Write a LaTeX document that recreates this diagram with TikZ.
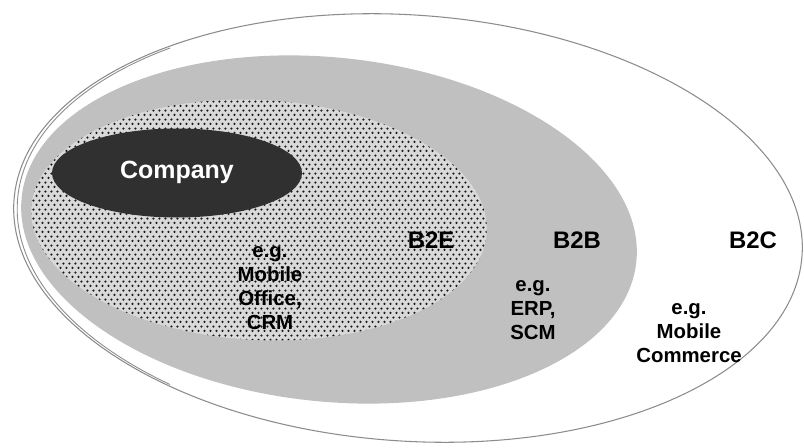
\documentclass[tikz,border=0pt]{standalone}
\usepackage{fontspec}
\setmainfont{Liberation Sans}
\usetikzlibrary{patterns.meta}

\definecolor{ringline}{HTML}{8C8C8C}
\definecolor{btobfill}{HTML}{C0C0C0}
\definecolor{btoefill}{HTML}{D9D9D9}
\definecolor{dotink}{HTML}{1A1A1A}
\definecolor{corefill}{HTML}{303030}

% staggered halftone dots for the B2E area
\tikzdeclarepattern{
  name=halftone,
  type=uncolored,
  bounding box={(0pt,0pt) and (3.4pt,5pt)},
  tile size={(3.4pt,5pt)},
  code={
    \fill (0.85pt,1.25pt) circle (0.7pt);
    \fill (2.55pt,3.75pt) circle (0.7pt);
  }
}

\tikzset{
  ring/.style={draw=ringline, line width=0.6pt},
  tag/.style={font=\bfseries\fontsize{13.6}{16}\selectfont, text=black, inner sep=0pt},
  note/.style={font=\bfseries\fontsize{11.6}{13.6}\selectfont, align=center, text=black, inner sep=0pt},
}

\begin{document}
\begin{tikzpicture}[x=0.02cm, y=0.02cm]
\useasboundingbox (0,0) rectangle (804,447);
\fill[white] (0,0) rectangle (804,447);

% B2C: outer ring, with a second stroke along its left side
\draw[ring, fill=white, rotate around={-4:(408,219)}]
  (408,219) ellipse [x radius=395, y radius=213];
\begin{scope}
  \clip (0,0) rectangle (170,447);
  \draw[ring, line width=0.5pt, rotate around={-4:(408,219)}]
    (409.5,219) ellipse [x radius=393, y radius=212];
\end{scope}

% B2B: grey ring
\fill[btobfill, rotate around={-6:(329,217.5)}]
  (329,217.5) ellipse [x radius=309, y radius=172];

% B2E: dotted ring
\fill[btoefill, rotate around={-3:(259,227)}]
  (259,227) ellipse [x radius=228, y radius=120];
\fill[pattern=halftone, pattern color=dotink, rotate around={-3:(259,227)}]
  (259,227) ellipse [x radius=228, y radius=120];

% company core
\fill[corefill] (177,274) ellipse [x radius=125, y radius=44.5];

\node[font=\bfseries\fontsize{14.2}{16}\selectfont, text=white] (company) at (177,275) {Company};

\node[tag] (btoe) at (431,207) {B2E};
\node[tag] (btob) at (577,207) {B2B};
\node[tag] (btoc) at (753,207) {B2C};

\node[note] (btoeex) at (270,159) {e.g.\\Mobile\\Office,\\CRM};
\node[note] (btobex) at (533,137) {e.g.\\ERP,\\SCM};
\node[note] (btocex) at (689,114) {e.g.\\Mobile\\Commerce};
\end{tikzpicture}
\end{document}
